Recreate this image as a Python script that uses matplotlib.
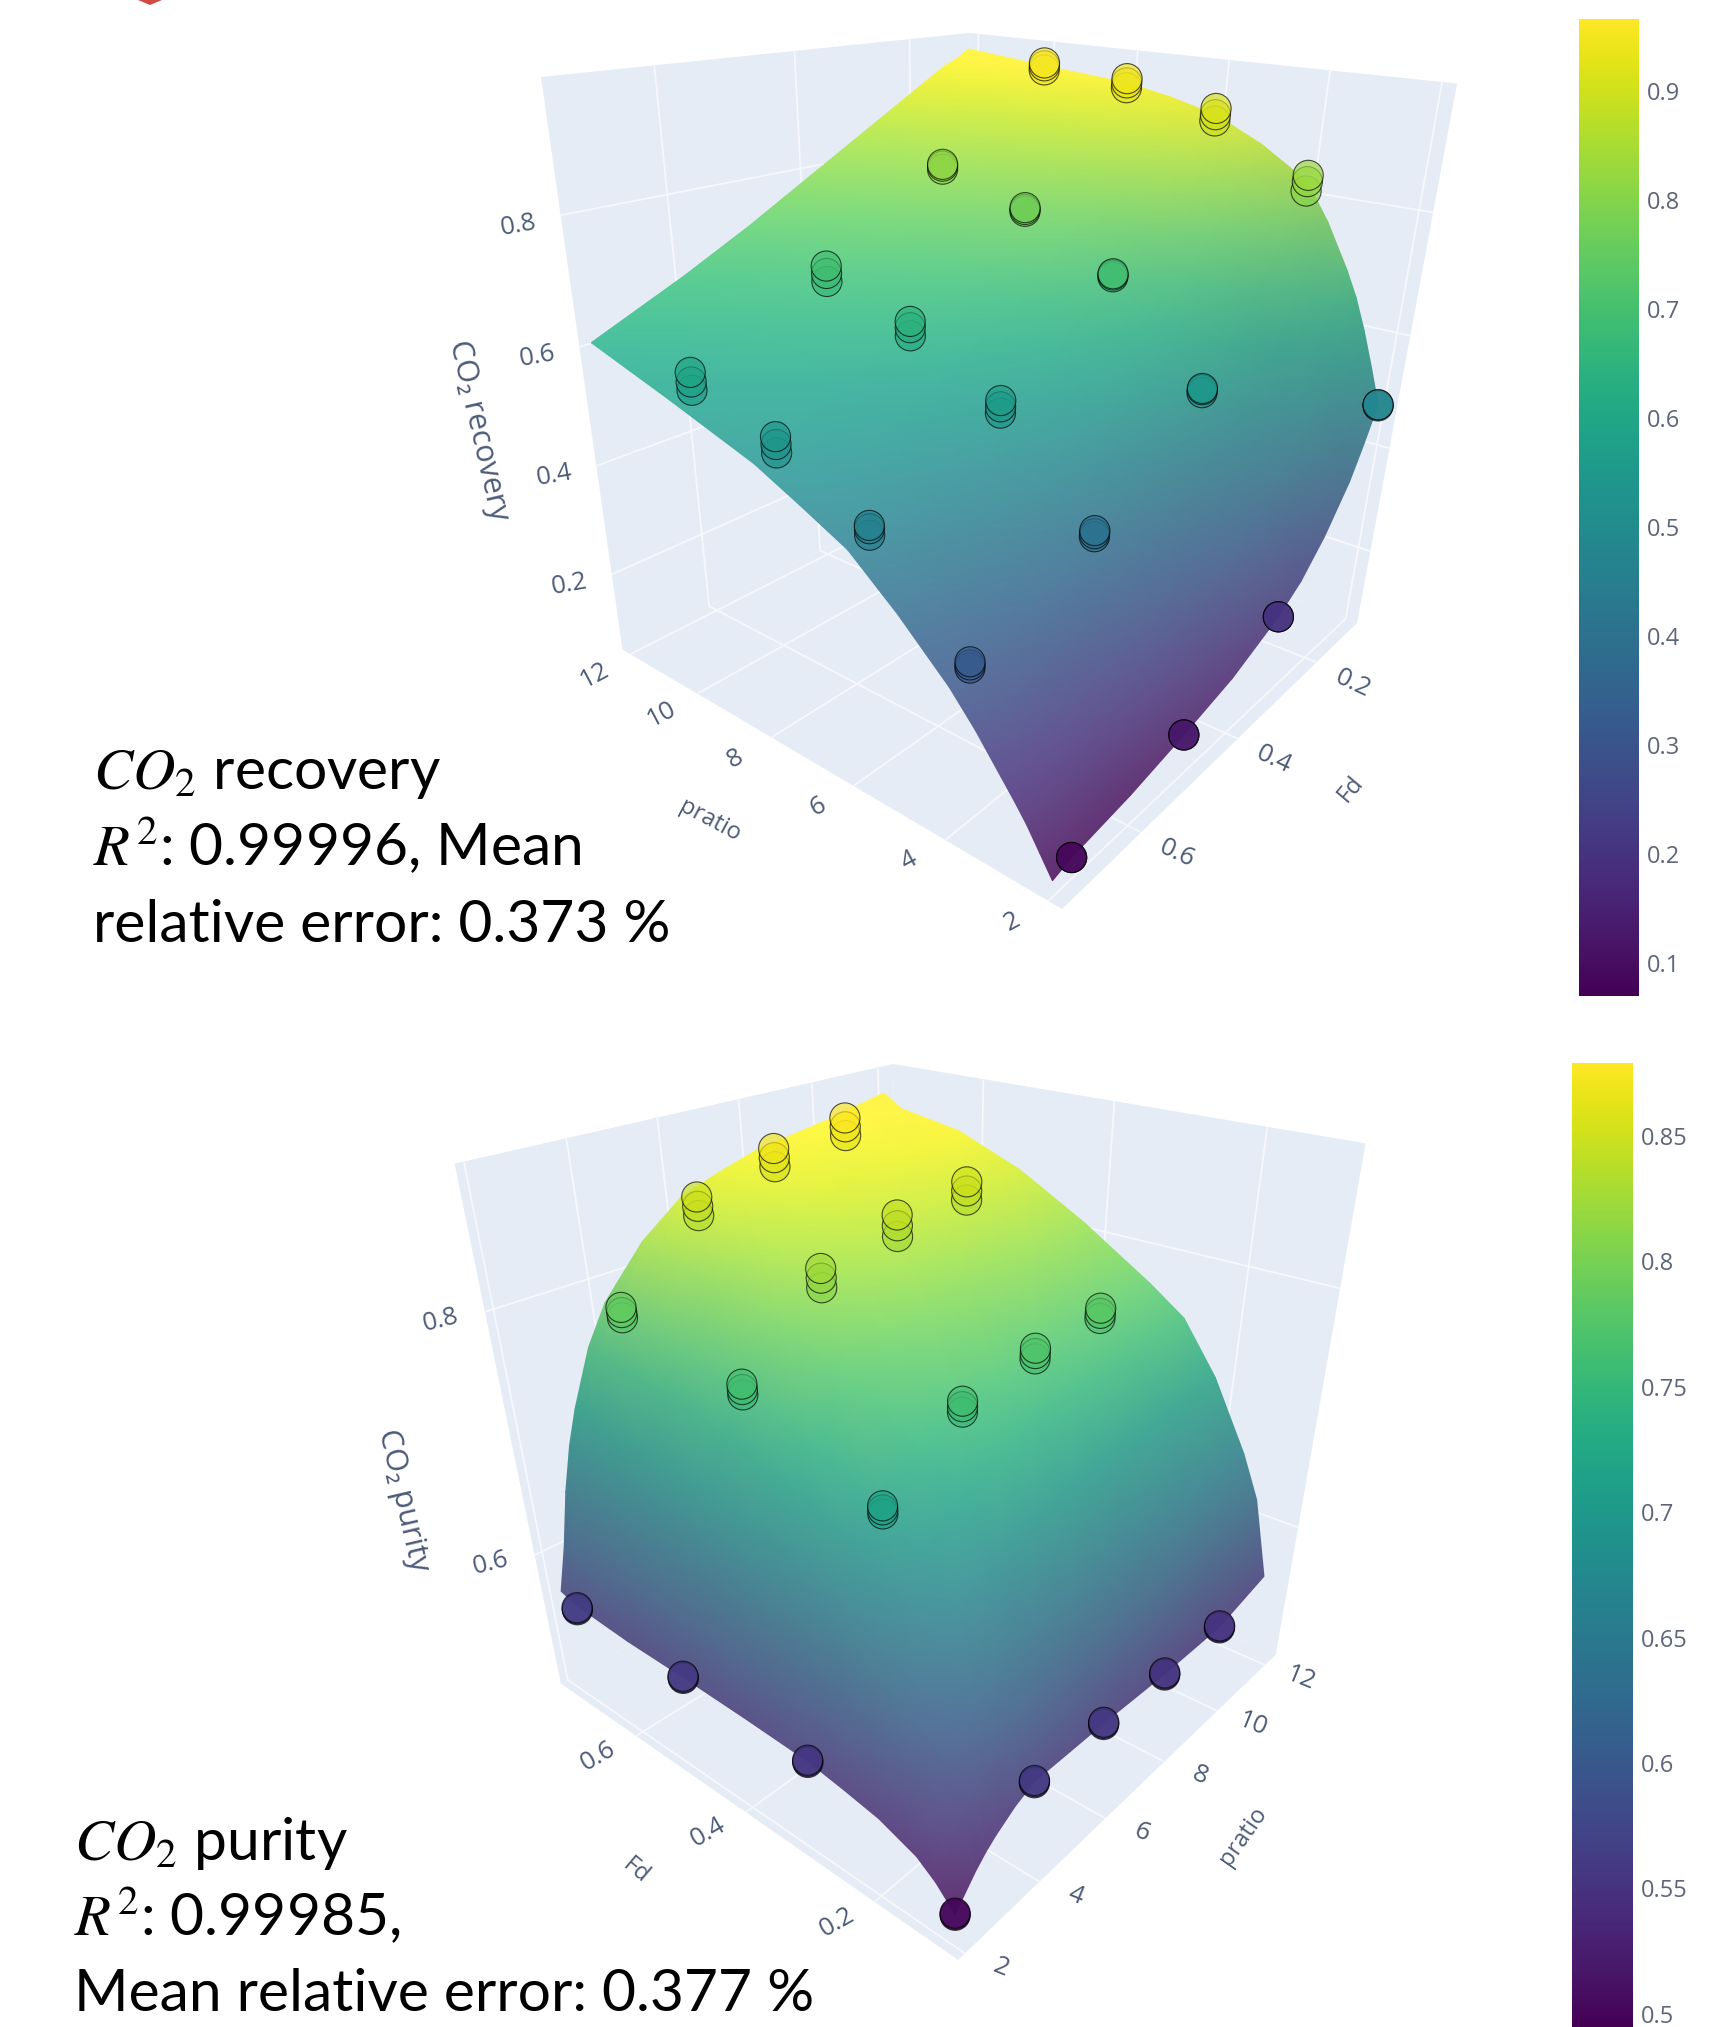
import numpy as np, matplotlib
matplotlib.use('Agg')
import matplotlib.pyplot as plt
from matplotlib.collections import TriMesh
from matplotlib import tri as mtri
from matplotlib.cm import ScalarMappable
from matplotlib.colors import Normalize
from matplotlib.patches import Polygon
from mpl_toolkits.mplot3d.art3d import Poly3DCollection
from mpl_toolkits.mplot3d import proj3d

W,H=1734,2027
plt.rcParams['font.family']=['Open Sans','DejaVu Sans']
plt.rcParams['mathtext.fontset']='stix'

# surface grids
rec_pr=[2,2.25,2.5,2.75,3,3.5,4,5,6,7,8,10,12]
pur_pr=[2,2.25,2.5,2.75,3,3.5,4,5,6,7,8,10,11.7]
fd_grid=[.1,.125,.15,.2,.25,.3,.4,.5,.6,.7,.73]
recovery_surface=[
[.482,.543,.601,.652,.693,.764,.822,.87,.906,.925,.939,.951,.965],
[.42,.485,.546,.60,.643,.719,.78,.835,.88,.902,.92,.935,.95],
[.365,.43,.496,.553,.60,.676,.74,.80,.855,.88,.90,.92,.94],
[.29,.347,.404,.453,.499,.59,.67,.745,.805,.835,.86,.885,.91],
[.235,.29,.345,.392,.436,.523,.60,.678,.745,.78,.81,.85,.88],
[.20,.252,.303,.348,.389,.472,.544,.623,.692,.732,.767,.812,.85],
[.155,.20,.248,.288,.326,.40,.465,.545,.61,.652,.69,.745,.79],
[.128,.169,.21,.246,.279,.344,.402,.483,.552,.594,.634,.684,.73],
[.105,.143,.18,.213,.243,.303,.355,.433,.50,.54,.577,.63,.675],
[.09,.124,.158,.188,.215,.27,.318,.393,.46,.497,.532,.58,.625],
[.08,.114,.148,.177,.204,.258,.305,.38,.445,.482,.517,.565,.61]]
purity_surface=[
[.503,.514,.525,.534,.541,.552,.559,.558,.557,.555,.553,.552,.565],
[.52,.536,.552,.565,.574,.59,.60,.606,.61,.613,.615,.62,.63],
[.532,.552,.571,.587,.599,.617,.63,.641,.648,.652,.655,.66,.665],
[.544,.568,.592,.612,.626,.649,.665,.686,.70,.706,.71,.715,.72],
[.55,.579,.607,.63,.647,.674,.693,.718,.735,.742,.748,.755,.76],
[.555,.587,.619,.644,.663,.693,.714,.74,.758,.765,.77,.776,.78],
[.558,.594,.631,.66,.682,.716,.74,.77,.79,.80,.808,.815,.815],
[.56,.60,.64,.672,.696,.734,.76,.794,.817,.827,.835,.843,.845],
[.561,.603,.645,.679,.704,.745,.772,.808,.832,.842,.851,.86,.866],
[.565,.606,.65,.686,.712,.754,.783,.819,.843,.854,.863,.872,.875],
[.57,.607,.652,.687,.714,.757,.786,.822,.846,.857,.866,.875,.885]]

# sampled points, three overlaid runs per point
pt_pr=[2,4,6,8,10]
pt_fd=[.1,.3,.5,.7]
rec_a=[[.482,.832,.916,.946,.956],[.20,.546,.694,.77,.815],[.128,.407,.562,.644,.696],[.09,.323,.465,.544,.595]]
rec_b=[[.482,.822,.906,.939,.951],[.20,.544,.692,.767,.812],[.128,.402,.552,.634,.684],[.09,.318,.46,.532,.58]]
rec_c=[[.48,.807,.896,.931,.944],[.20,.539,.689,.764,.807],[.128,.397,.542,.621,.671],[.09,.313,.45,.519,.567]]
pur_a=[[.504,.56,.558,.554,.553],[.556,.717,.762,.774,.78],[.561,.764,.824,.843,.85],[.563,.787,.85,.87,.879]]
pur_b=[[.503,.559,.557,.553,.552],[.555,.714,.758,.77,.776],[.56,.76,.817,.835,.843],[.562,.783,.843,.863,.872]]
pur_c=[[.502,.558,.556,.552,.551],[.554,.711,.754,.766,.772],[.559,.756,.81,.827,.836],[.561,.779,.836,.856,.865]]

pr_ticks=[2,4,6,8,10,12]
fd_ticks=[.2,.4,.6]
rec_z_ticks=[.2,.4,.6,.8]
pur_z_ticks=[.6,.8]
rec_cbar_ticks=[.1,.2,.3,.4,.5,.6,.7,.8,.9]
rec_cbar_labels=['0.1','0.2','0.3','0.4','0.5','0.6','0.7','0.8','0.9']
pur_cbar_ticks=[.5,.55,.6,.65,.7,.75,.8,.85]
pur_cbar_labels=['0.5','0.55','0.6','0.65','0.7','0.75','0.8','0.85']

# camera: elev, azim, roll, log focal, log box x, log box y | pixel scale x, y, offset x, y
cam_top=(24.004,128.020,-1.387,-1.499,-0.136,-0.168)
map_top=(5562.65,4961.42,1006.99,388.73)
cam_bot=(29.289,-138.407,0.562,-1.439,-0.101,-0.084)
map_bot=(5327.55,4988.50,920.42,1442.16)

fig=plt.figure(figsize=(W/100,H/100),dpi=100,facecolor='white')
bg=fig.add_axes([0,0,1,1]);bg.set_xlim(0,W);bg.set_ylim(H,0);bg.axis('off')
TICK='#4d5b78'

def scene(p,sol,zlim,fdlim,prlim,prg,table,runs,vmin,vmax,fdwall,zticks,prlab,fdlab,zlab):
    ax=fig.add_axes([0,0,.5,.5],projection='3d',computed_zorder=False)
    ax.set_axis_off();ax.set_facecolor('none')
    ax.set_xlim(*prlim,view_margin=0);ax.set_ylim(*fdlim,view_margin=0);ax.set_zlim(*zlim,view_margin=0)
    ax.view_init(elev=p[0],azim=p[1],roll=p[2])
    ax.set_proj_type('persp',focal_length=float(np.exp(p[3])))
    ax.set_box_aspect((float(np.exp(p[4])),float(np.exp(p[5])),1.0))
    sx,sy,tx,ty=sol
    v=ax.viewLim
    ax.apply_aspect=lambda position=None:None
    ax.set_position([(tx+sx*v.x0)/W,(H-ty+sy*v.y0)/H,sx*(v.x1-v.x0)/W,sy*(v.y1-v.y0)/H])
    M=ax.get_proj()
    pl,ph=prlim;fl,fh=fdlim;zl,zh=zlim
    for poly in ([(pl,fl,zl),(ph,fl,zl),(ph,fh,zl),(pl,fh,zl)],
                 [(ph,fl,zl),(ph,fh,zl),(ph,fh,zh),(ph,fl,zh)],
                 [(pl,fdwall,zl),(ph,fdwall,zl),(ph,fdwall,zh),(pl,fdwall,zh)]):
        c=Poly3DCollection([poly],facecolor='#E5ECF6',edgecolor='none',zorder=1);c.set_clip_on(False)
        ax.add_collection3d(c,autolim=False)
    g=dict(color='#f6f8fc',lw=1.3,zorder=1.5,solid_capstyle='butt',clip_on=False)
    for t in pr_ticks:
        ax.plot([t,t],[fl,fh],[zl,zl],**g);ax.plot([t,t],[fdwall,fdwall],[zl,zh],**g)
    for t in fd_ticks:
        ax.plot([pl,ph],[t,t],[zl,zl],**g);ax.plot([ph,ph],[t,t],[zl,zh],**g)
    for t in zticks:
        ax.plot([ph,ph],[fl,fh],[t,t],**g);ax.plot([pl,ph],[fdwall,fdwall],[t,t],**g)
    # surface: the table's vertices, Gouraud shaded through the 3D axes' projection
    X,Y=np.meshgrid(prg,fd_grid);Z=np.array(table)
    xp,yp,zp=proj3d.proj_transform(X.ravel(),Y.ravel(),Z.ravel(),M)
    ni,nj=Z.shape
    idx=np.arange(ni*nj).reshape(ni,nj)
    tris=np.vstack([np.c_[idx[:-1,:-1].ravel(),idx[:-1,1:].ravel(),idx[1:,1:].ravel()],
                    np.c_[idx[:-1,:-1].ravel(),idx[1:,1:].ravel(),idx[1:,:-1].ravel()]])
    tris=tris[np.argsort(-zp[tris].mean(axis=1))]
    cols=plt.get_cmap('viridis')(Normalize(vmin,vmax)(Z.ravel()))
    dzx=np.gradient(Z,np.array(prg)/(ph-pl),axis=1)/(zh-zl)
    dzy=np.gradient(Z,np.array(fd_grid)/(fh-fl),axis=0)/(zh-zl)
    nz=(1/np.sqrt(1+dzx**2+dzy**2)).ravel()
    shade=.78+.3*nz
    rgb=cols[:,:3]*shade[:,None]
    rgb=rgb*.83+.17
    cols[:,:3]=np.clip(rgb,0,1)
    mesh=TriMesh(mtri.Triangulation(xp,yp,triangles=tris))
    mesh.set_facecolor(cols);mesh.set_transform(ax.transData);mesh.set_zorder(2);mesh.set_clip_on(False)
    mesh.do_3d_projection=lambda:0
    ax.add_collection(mesh,autolim=False)
    PX,FY=np.meshgrid(pt_pr,pt_fd)
    for k,zr in enumerate(runs):
        zr=np.array(zr)
        ax.scatter(PX.ravel(),FY.ravel(),zr.ravel(),c=zr.ravel(),cmap='viridis',vmin=vmin,vmax=vmax,s=470,
                   edgecolors='black',linewidths=.8,alpha=.68,depthshade=False,zorder=3+k,clip_on=False)
    def lab(x,y,z,t,off,rot):
        a,b,_=proj3d.proj_transform(x,y,z,M)
        ax.annotate(t,xy=(a,b),xycoords='data',xytext=off,textcoords='offset pixels',rotation=rot,
                    ha='center',va='center',fontsize=18.5,color=TICK,annotation_clip=False,zorder=9)
    fdo=fdlim[1] if fdwall==fdlim[0] else fdlim[0]
    for t in pr_ticks:
        lab(t,fdo,zl,str(t),*prlab)
    for t in fd_ticks:
        lab(pl,t,zl,f'{t:.1f}',*fdlab)
    for t in zticks:
        if fdwall==fdlim[0]: lab(ph,fh,t,f'{t:.1f}',*zlab)
        else: lab(pl,fh,t,f'{t:.1f}',*zlab)
    return ax

scene(cam_top,map_top,(.05,.99),(.08,.735),(1.75,12.25),rec_pr,recovery_surface,[rec_c,rec_b,rec_a],.07,.966,.08,rec_z_ticks,
      ((-36,-21),28),((36,-21),-25),((-42,-10),10))
scene(cam_bot,map_bot,(.473,.902),(.087,.757),(1.83,12.48),pur_pr,purity_surface,[pur_c,pur_b,pur_a],.4948,.879,.757,pur_z_ticks,
      ((36,-14),-22),((-38,-20),30),((-44,-8),14))

def title(x,y,t,rot,fs=17):
    bg.text(x,y,t,rotation=rot,ha='center',va='center',fontsize=fs,color=TICK,rotation_mode='anchor')
title(710,821,'pratio',-28);title(1351,789,'Fd',50);title(478,430,'CO\u2082 recovery',-77,22)
title(1243,1836,'pratio',55);title(636,1871,'Fd',-40);title(403,1500,'CO\u2082 purity',-77,22)

def cbar(x0,x1,y0,y1,vmin,vmax,ticks,labels):
    cax=fig.add_axes([x0/W,(H-y1)/H,(x1-x0)/W,(y1-y0)/H])
    cb=fig.colorbar(ScalarMappable(Normalize(vmin,vmax),'viridis'),cax=cax)
    cb.outline.set_visible(False)
    cb.set_ticks(ticks,labels=labels)
    cax.tick_params(length=0,pad=6,labelsize=17,labelcolor='#5d6678')
cbar(1579,1639,19,996,.0697,.966,rec_cbar_ticks,rec_cbar_labels)
cbar(1572,1633,1063,2027,.4948,.879,pur_cbar_ticks,pur_cbar_labels)

def big(x,y,t):
    bg.text(x,y,t,fontsize=42.3,family=['Lato','DejaVu Sans'],color='black',va='baseline',ha='left')
big(93,789,r'$CO_2$ recovery');big(93,866,r'$R^2$: 0.99996, Mean');big(93,942,'relative error: 0.373 %')
big(74,1860,r'$CO_2$ purity');big(74,1936,r'$R^2$: 0.99985,');big(74,2011,'Mean relative error: 0.377 %')
bg.add_patch(Polygon([(138,0),(162,0),(150,5)],closed=True,facecolor='#d24a46',edgecolor='none'))
fig.savefig('out.png',dpi=100)
